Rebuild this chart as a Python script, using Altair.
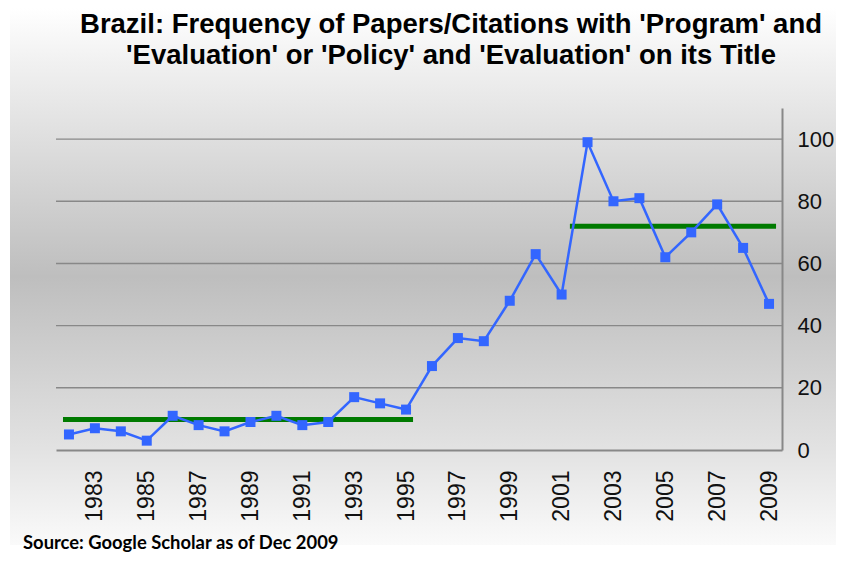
import altair as alt
import pandas as pd

years = list(range(1982, 2010))
papers = [5, 7, 6, 3, 11, 8, 6, 9, 11, 8, 9, 17, 15, 13,
          27, 36, 35, 48, 63, 50, 99, 80, 81, 62, 70, 79, 65, 47]

# period averages (green lines)
avg_start = [1981.77, 2001.32]
avg_end = [1995.27, 2009.27]
avg_value = [9.8, 72.0]

tick_years = list(range(1983, 2010, 2))
y_ticks = [0, 20, 40, 60, 80, 100]

title_text = ("Brazil: Frequency of Papers/Citations with 'Program' and\n"
              "'Evaluation' or 'Policy' and 'Evaluation' on its Title")
source_text = "Source: Google Scholar as of Dec 2009"

df = pd.DataFrame({"year": years, "papers": papers})
df_avg = pd.DataFrame({"x1": avg_start, "x2": avg_end, "v": avg_value})
df_grid = pd.DataFrame({"v": y_ticks[1:]})

W, H = 726, 342

xs = alt.Scale(domain=[1981.5, 2009.5], nice=False, zero=False)
ys = alt.Scale(domain=[0, 110], nice=False)

grad = alt.Gradient(
    gradient="linear", x1=0, y1=0, x2=0, y2=1,
    stops=[
        alt.GradientStop(offset=0.0, color="#ffffff"),
        alt.GradientStop(offset=0.10, color="#f1f1f1"),
        alt.GradientStop(offset=0.50, color="#bebebe"),
        alt.GradientStop(offset=0.82, color="#e2e2e2"),
        alt.GradientStop(offset=1.0, color="#fafafa"),
    ],
)

bg = alt.Chart(pd.DataFrame({"a": [0]})).mark_rect(color=grad).encode(
    x=alt.value(-46), x2=alt.value(W + 60),
    y=alt.value(-100), y2=alt.value(H + 95),
)

grid = alt.Chart(df_grid).mark_rule(color="#888888", strokeWidth=1.4).encode(
    y=alt.Y("v:Q", scale=ys),
    x=alt.value(0), x2=alt.value(W),
)

base = alt.Chart(df)

line = base.mark_line(color="#3366FF", strokeWidth=2.5).encode(
    x=alt.X("year:Q", scale=xs, title=None,
            axis=alt.Axis(values=tick_years, format="d", labelAngle=-90,
                          labelFontSize=23, labelFont="Liberation Sans",
                          labelColor="#111111", labelPadding=20,
                          ticks=False, grid=False, domainColor="#888888",
                          domainWidth=2, zindex=1)),
    y=alt.Y("papers:Q", scale=ys, title=None,
            axis=alt.Axis(orient="right", values=y_ticks, labelFontSize=22,
                          labelFont="Liberation Sans", labelColor="#111111",
                          labelPadding=15, ticks=False, grid=False,
                          domainColor="#888888", domainWidth=2, zindex=1)),
)

pts = base.mark_point(shape="square", filled=True, size=100, opacity=1,
                      color="#3366FF").encode(
    x=alt.X("year:Q", scale=xs),
    y=alt.Y("papers:Q", scale=ys),
)

avg = alt.Chart(df_avg).mark_rule(color="#007A00", strokeWidth=5).encode(
    x=alt.X("x1:Q", scale=xs),
    x2="x2:Q",
    y=alt.Y("v:Q", scale=ys),
)

src = alt.Chart(pd.DataFrame({"t": [source_text]})).mark_text(
    align="left", baseline="alphabetic", font="Lato", fontWeight="bold",
    fontSize=18.4, color="#000000"
).encode(x=alt.value(-33), y=alt.value(441), text="t:N")

ttl = alt.Chart(pd.DataFrame({"t": [title_text]})).mark_text(
    align="center", baseline="alphabetic", font="Liberation Sans",
    fontWeight="bold", fontSize=27.5, color="#000000", lineBreak="\n",
    lineHeight=31
).encode(x=alt.value(395), y=alt.value(-75), text="t:N")

chart = alt.layer(bg, grid, avg, line, pts, src, ttl).properties(
    width=W, height=H,
    padding={"left": 48, "top": 100, "right": 54, "bottom": 103},
    autosize=alt.AutoSizeParams(type="none"),
).configure_view(stroke=None).configure(background="#ffffff")

chart.save("out.html", embed_options={"renderer": "svg", "actions": False})
